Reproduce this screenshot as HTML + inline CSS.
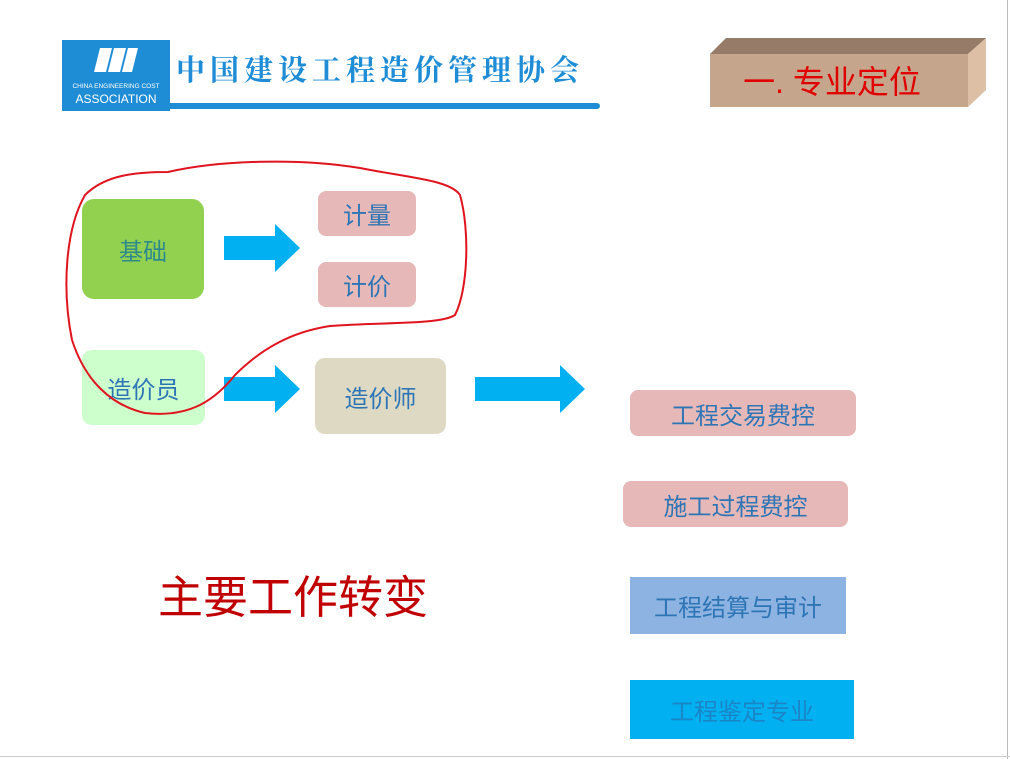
<!DOCTYPE html>
<html><head><meta charset="utf-8"><style>
body{margin:0;width:1010px;height:759px;background:#fff;position:relative;overflow:hidden;font-family:"Liberation Sans","Noto Sans CJK SC",sans-serif}
.b{position:absolute;display:flex;align-items:center;justify-content:center;color:#2e75b6;font-size:24px;font-family:"Liberation Sans","Noto Sans CJK SC",sans-serif}
</style></head><body>
<div style="position:absolute;right:2px;top:0;width:1px;height:759px;background:#bbb"></div>
<div style="position:absolute;left:0;bottom:2px;width:1010px;height:1px;background:#ccc"></div>
<div style="position:absolute;left:62px;top:40px;width:108px;height:71px;background:#1f8dd6"></div>
<svg style="position:absolute;left:62px;top:40px" width="108" height="71">
<polygon points="38,8 50,8 44,32 32,32" fill="#fff"/>
<polygon points="52,8 64,8 58,32 46,32" fill="#fff"/>
<polygon points="66,8 76,8 70,32 60,32" fill="#fff"/>
<text x="54" y="48" font-size="6.5" fill="#fff" text-anchor="middle" font-family="Liberation Sans">CHINA ENGINEERING COST</text>
<text x="54" y="63" font-size="12" fill="#fff" text-anchor="middle" font-family="Liberation Sans">ASSOCIATION</text>
</svg>
<div style="position:absolute;left:170px;top:103px;width:430px;height:6px;background:#1f8dd6;border-radius:0 3px 3px 0"></div>
<div style="position:absolute;left:176px;top:48px;font-size:29px;letter-spacing:5px;color:#1f8dd6;font-family:'Liberation Serif','Noto Serif CJK SC',serif;font-weight:bold">中国建设工程造价管理协会</div>
<svg style="position:absolute;left:0;top:0" width="1010" height="759">
<polygon points="710,54 726,38 986,38 968,54" fill="#957b68"/>
<polygon points="968,54 986,38 986,90 968,107" fill="#dcbfa4"/>
<rect x="710" y="54" width="258" height="53" fill="#c5a58b"/>
<text x="832" y="93" font-size="32" fill="#e00000" text-anchor="middle" font-family="Liberation Sans,Noto Sans CJK SC">一. 专业定位</text>
<polygon points="224,236 275,236 275,224 300,248 275,272 275,260 224,260" fill="#00b0f0"/>
<polygon points="224,377 275,377 275,365 300,389 275,413 275,401 224,401" fill="#00b0f0"/>
<polygon points="475,377 560,377 560,365 585,389 560,413 560,401 475,401" fill="#00b0f0"/>
</svg>
<div class="b" style="left:82px;top:199px;width:122px;height:100px;background:#92d050;border-radius:12px;color:#2e8b8b">基础</div>
<div class="b" style="left:318px;top:191px;width:98px;height:45px;background:#e6b9b8;border-radius:8px">计量</div>
<div class="b" style="left:318px;top:262px;width:98px;height:45px;background:#e6b9b8;border-radius:8px">计价</div>
<div class="b" style="left:82px;top:350px;width:123px;height:75px;background:#ccffcc;border-radius:10px">造价员</div>
<div class="b" style="left:315px;top:358px;width:131px;height:76px;background:#ddd9c3;border-radius:10px">造价师</div>
<div class="b" style="left:630px;top:390px;width:226px;height:46px;background:#e6b9b8;border-radius:8px">工程交易费控</div>
<div class="b" style="left:623px;top:481px;width:225px;height:46px;background:#e6b9b8;border-radius:8px">施工过程费控</div>
<div class="b" style="left:630px;top:577px;width:216px;height:57px;background:#8db3e2">工程结算与审计</div>
<div class="b" style="left:630px;top:680px;width:224px;height:59px;background:#00b0f0;color:#1a86c8">工程鉴定专业</div>
<div style="position:absolute;left:158px;top:561px;font-size:45px;color:#c00000;font-family:'Liberation Sans','Noto Sans CJK SC',sans-serif">主要工作转变</div>
<svg style="position:absolute;left:0;top:0" width="1010" height="759">
<path d="M168,172 C220,160 300,158 360,168 C410,178 450,180 460,195 C470,230 468,290 455,315 C440,325 380,322 330,326 C290,332 260,350 235,375 C215,400 190,418 145,413 C110,405 85,380 72,340 C62,290 65,230 85,195 C105,175 135,172 168,172 Z" fill="none" stroke="#e0141e" stroke-width="2"/>
</svg>
</body></html>
